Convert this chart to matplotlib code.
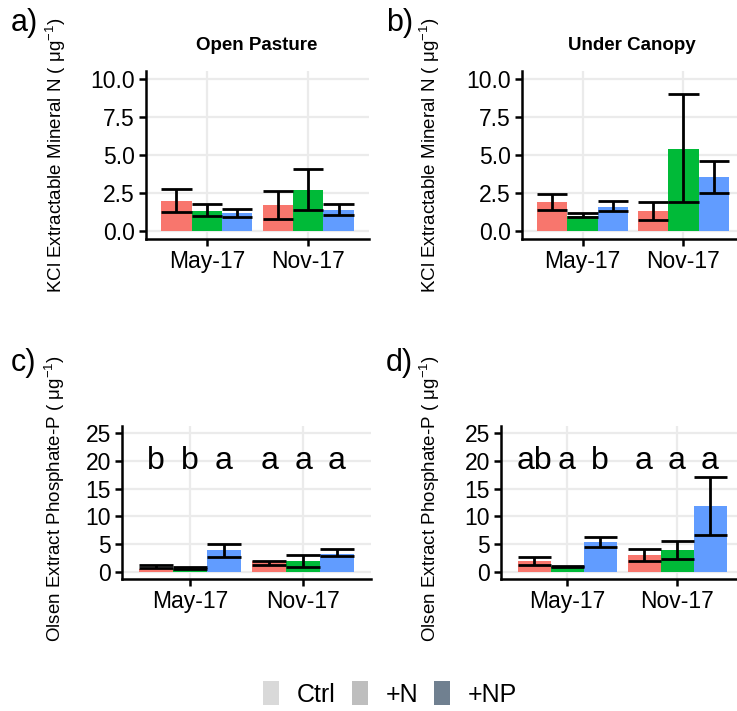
import matplotlib
matplotlib.use("Agg")
import matplotlib.pyplot as plt
from matplotlib.patches import Patch
import numpy as np

plt.rcParams['font.family'] = ['Liberation Sans', 'DejaVu Sans']
plt.rcParams['mathtext.fontset'] = 'custom'
plt.rcParams['mathtext.rm'] = 'Liberation Sans'
plt.rcParams['mathtext.it'] = 'Liberation Sans:italic'

dates = ["May-17", "Nov-17"]
treatments = ["Ctrl", "+N", "+NP"]
bar_colors = ["#F8766D", "#00BA38", "#619CFF"]
legend_colors = ["#D9D9D9", "#BEBEBE", "#708090"]

# values per date (rows) x treatment (cols)
open_N_mean = [[2.00, 1.34, 1.18], [1.71, 2.70, 1.38]]
open_N_lo = [[1.27, 1.00, 0.90], [0.77, 1.38, 1.05]]
open_N_hi = [[2.76, 1.80, 1.45], [2.63, 4.06, 1.75]]

canopy_N_mean = [[1.89, 1.00, 1.60], [1.32, 5.41, 3.55]]
canopy_N_lo = [[1.36, 0.92, 1.34], [0.72, 1.89, 2.48]]
canopy_N_hi = [[2.41, 1.16, 1.95], [1.91, 8.99, 4.63]]

open_P_mean = [[0.50, 0.55, 3.96], [1.90, 2.04, 3.30]]
open_P_lo = [[0.78, 0.60, 2.76], [1.20, 0.90, 2.82]]
open_P_hi = [[1.32, 0.85, 5.10], [2.05, 3.06, 4.08]]

canopy_P_mean = [[2.04, 0.95, 5.34], [3.00, 3.90, 11.80]]
canopy_P_lo = [[1.26, 0.85, 4.44], [2.04, 2.40, 6.70]]
canopy_P_hi = [[2.70, 1.05, 6.30], [4.20, 5.50, 17.15]]

open_P_letters = [["b", "b", "a"], ["a", "a", "a"]]
canopy_P_letters = [["ab", "a", "b"], ["a", "a", "a"]]
letter_y = 20

N_ticks = [0, 2.5, 5, 7.5, 10]
N_ticklabels = ["0.0", "2.5", "5.0", "7.5", "10.0"]
P_ticks = [0, 5, 10, 15, 20, 25]
P_ticklabels = ["0", "5", "10", "15", "20", "25"]

W, H = 737, 711
fig = plt.figure(figsize=(W / 100, H / 100), dpi=100)


def px_axes(l, r, t, b):
    return fig.add_axes([l / W, 1 - b / H, (r - l) / W, (b - t) / H])


def panel(ax, mean, lo, hi, ticks, ticklabels, ylim, letters=None):
    bw = 0.3
    xs = np.arange(1, len(dates) + 1)
    for d in range(len(dates)):
        for t in range(len(treatments)):
            x = xs[d] + (t - 1) * bw
            ax.bar(x, mean[d][t], width=bw, color=bar_colors[t], zorder=2)
            ax.vlines(x, lo[d][t], hi[d][t], color="black", lw=2.0, zorder=3)
            ax.hlines([lo[d][t], hi[d][t]], x - bw / 2, x + bw / 2,
                      color="black", lw=2.0, zorder=3)
            if letters is not None:
                ax.text(x, letter_y, letters[d][t], ha="center", va="center",
                        fontsize=23, zorder=4)
    ax.set_xlim(0.4, 2.6)
    ax.set_ylim(*ylim)
    ax.set_xticks(xs)
    ax.set_xticklabels(dates, fontsize=16.5)
    ax.set_yticks(ticks)
    ax.set_yticklabels(ticklabels, fontsize=16.5)
    ax.grid(True, color="#EBEBEB", lw=1.6, zorder=0)
    ax.set_axisbelow(True)
    for s in ["top", "right"]:
        ax.spines[s].set_visible(False)
    for s in ["left", "bottom"]:
        ax.spines[s].set_linewidth(1.8)
        ax.spines[s].set_color("black")
    ax.tick_params(axis="both", length=5, width=1.8, color="black", pad=3,
                   labelcolor="black")


ax_a = px_axes(146, 369, 71.4, 238.6)
ax_b = px_axes(522, 744, 71.4, 238.6)
ax_c = px_axes(122, 371, 426, 579)
ax_d = px_axes(501, 743, 426, 579)

panel(ax_a, open_N_mean, open_N_lo, open_N_hi, N_ticks, N_ticklabels, (-0.5, 10.5))
panel(ax_b, canopy_N_mean, canopy_N_lo, canopy_N_hi, N_ticks, N_ticklabels, (-0.5, 10.5))
panel(ax_c, open_P_mean, open_P_lo, open_P_hi, P_ticks, P_ticklabels, (-1.25, 26.25),
      open_P_letters)
panel(ax_d, canopy_P_mean, canopy_P_lo, canopy_P_hi, P_ticks, P_ticklabels, (-1.25, 26.25),
      canopy_P_letters)

def ftext(x, y, s, **kw):
    fig.text(x / W, 1 - y / H, s, **kw)

N_label = "KCl Extractable Mineral N ( \u03bcg$^{-1}$)"
P_label = "Olsen Extract Phosphate-P ( \u03bcg$^{-1}$)"
ftext(56, 155, N_label, rotation=90, ha="center", va="center", fontsize=13.5)
ftext(430, 155, N_label, rotation=90, ha="center", va="center", fontsize=13.5)
ftext(55, 499, P_label, rotation=90, ha="center", va="center", fontsize=13.5)
ftext(430, 499, P_label, rotation=90, ha="center", va="center", fontsize=13.5)

ftext(257, 45, "Open Pasture", ha="center", va="center", fontsize=13.5, fontweight="bold")
ftext(632, 45, "Under Canopy", ha="center", va="center", fontsize=13.5, fontweight="bold")

ftext(11, 23, "a)", ha="left", va="center", fontsize=22)
ftext(386, 23, "b)", ha="left", va="center", fontsize=22)
ftext(11, 363, "c)", ha="left", va="center", fontsize=22)
ftext(386, 363, "d)", ha="left", va="center", fontsize=22)

handles = [Patch(facecolor=c, edgecolor="none") for c in legend_colors]
fig.legend(handles, treatments, loc="center", bbox_to_anchor=(390 / W, 1 - 694 / H),
           ncol=3, frameon=False, fontsize=18, handlelength=0.65, handleheight=1.1,
           handletextpad=0.7, columnspacing=0.65)

fig.savefig("out.png", dpi=100)
